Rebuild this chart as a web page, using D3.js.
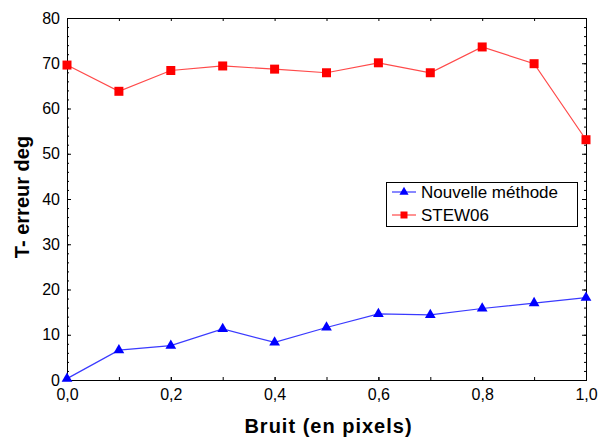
<!DOCTYPE html>
<html><head><meta charset="utf-8">
<script src="https://cdn.jsdelivr.net/npm/d3@7"></script>
<style>body{margin:0;background:#fff;} svg{display:block;}</style>
</head><body>
<script>
const noise = [0.0, 0.1, 0.2, 0.3, 0.4, 0.5, 0.6, 0.7, 0.8, 0.9, 1.0];
const nouvelle = [0.3, 6.6, 7.6, 11.3, 8.3, 11.6, 14.6, 14.4, 15.8, 17.0, 18.2];
const stew06 = [69.6, 63.8, 68.4, 69.4, 68.7, 67.9, 70.1, 67.9, 73.6, 69.9, 53.1];
const xTicks = [0, 0.2, 0.4, 0.6, 0.8, 1.0];
const yTicks = [0, 10, 20, 30, 40, 50, 60, 70, 80];
const seriesNames = ["Nouvelle méthode", "STEW06"];

const W = 605, H = 441;
const L = 67, R = 586, T = 18, B = 380;
const svg = d3.select("body").append("svg").attr("width", W).attr("height", H);
const x = d3.scaleLinear().domain([0, 1]).range([L, R]);
const y = d3.scaleLinear().domain([0, 80]).range([B, T]);
const fmt = d => d3.format(".1f")(d).replace(".", ",");

// frame
svg.append("rect").attr("x", L).attr("y", T).attr("width", R - L).attr("height", B - T)
  .attr("fill", "none").attr("stroke", "#000").attr("stroke-width", 1).attr("shape-rendering", "crispEdges");

const font = "'Liberation Sans', Arial, sans-serif";
// left axis: inward ticks
const yMinor = d3.range(0, 81, 2);
const gl = svg.append("g").attr("transform", `translate(${L},0)`)
  .call(d3.axisLeft(y).tickValues(yTicks).tickSize(-4).tickPadding(7).tickFormat(d3.format("d")));
gl.select(".domain").remove();
gl.selectAll("text").attr("font-family", font).attr("font-size", 16).attr("fill", "#000");
gl.selectAll("line").attr("stroke", "#000");
svg.append("g").attr("transform", `translate(${L},0)`)
  .call(d3.axisLeft(y).tickValues(yMinor).tickSize(-2).tickFormat(""))
  .call(g => g.select(".domain").remove());
// right axis inward
svg.append("g").attr("transform", `translate(${R},0)`)
  .call(d3.axisRight(y).tickValues(yTicks).tickSize(-4).tickFormat(""))
  .call(g => g.select(".domain").remove());
svg.append("g").attr("transform", `translate(${R},0)`)
  .call(d3.axisRight(y).tickValues(yMinor).tickSize(-2).tickFormat(""))
  .call(g => g.select(".domain").remove());
// bottom axis
const xMinor = noise;
const gb = svg.append("g").attr("transform", `translate(0,${B})`)
  .call(d3.axisBottom(x).tickValues(xTicks).tickSize(-3).tickPadding(9).tickFormat(fmt));
gb.select(".domain").remove();
gb.selectAll("text").attr("font-family", font).attr("font-size", 16).attr("fill", "#000");
svg.append("g").attr("transform", `translate(0,${B})`)
  .call(d3.axisBottom(x).tickValues(xMinor).tickSize(-3).tickFormat(""))
  .call(g => g.select(".domain").remove());
// top axis
svg.append("g").attr("transform", `translate(0,${T})`)
  .call(d3.axisTop(x).tickValues(xMinor).tickSize(-3).tickFormat(""))
  .call(g => g.select(".domain").remove());
svg.selectAll(".tick line").attr("stroke", "#000");

// titles
svg.append("text").attr("x", (L + R) / 2 + 2).attr("y", 433).attr("text-anchor", "middle")
  .attr("font-family", font).attr("font-weight", "bold").attr("font-size", 20)
  .attr("letter-spacing", 1).text("Bruit (en pixels)");
svg.append("text").attr("transform", "translate(29,197) rotate(-90)").attr("text-anchor", "middle")
  .attr("font-family", font).attr("font-weight", "bold").attr("font-size", 20)
  .text("T- erreur deg");

// lines
const line = d3.line().x((d, i) => x(noise[i])).y(d => y(d));
svg.append("path").datum(stew06).attr("d", line).attr("fill", "none").attr("stroke", "#ff4a4a").attr("stroke-width", 1.2);
svg.append("path").datum(nouvelle).attr("d", line).attr("fill", "none").attr("stroke", "#3a3aff").attr("stroke-width", 1.2);

const sq = d3.symbol().type(d3.symbolSquare).size(81);
const tri = d3.symbol().type(d3.symbolTriangle).size(50);
svg.append("g").selectAll("path").data(stew06).join("path")
  .attr("d", sq).attr("fill", "#ff0000")
  .attr("transform", (d, i) => `translate(${x(noise[i])},${y(d)})`);
svg.append("g").selectAll("path").data(nouvelle).join("path")
  .attr("d", tri).attr("fill", "#0000ff")
  .attr("transform", (d, i) => `translate(${x(noise[i])},${y(d)})`);

// legend
const lg = svg.append("g");
lg.append("rect").attr("x", 386).attr("y", 182).attr("width", 191).attr("height", 44)
  .attr("fill", "#fff").attr("stroke", "#000").attr("stroke-width", 1).attr("shape-rendering", "crispEdges");
const items = [
  {name: seriesNames[0], color: "#0000ff", lc: "#3a3aff", sym: d3.symbol().type(d3.symbolTriangle).size(36)},
  {name: seriesNames[1], color: "#ff0000", lc: "#ff4a4a", sym: d3.symbol().type(d3.symbolSquare).size(49)}
];
items.forEach((it, i) => {
  const cy = 192 + i * 23;
  lg.append("line").attr("x1", 392).attr("x2", 416).attr("y1", cy).attr("y2", cy).attr("stroke", it.lc).attr("stroke-width", 1.2);
  lg.append("path").attr("d", it.sym).attr("fill", it.color).attr("transform", `translate(404,${cy})`);
  lg.append("text").attr("x", 421).attr("y", cy + 6).attr("font-family", font).attr("font-size", 17)
    .attr("fill", "#000").text(it.name);
});
</script>
</body></html>
